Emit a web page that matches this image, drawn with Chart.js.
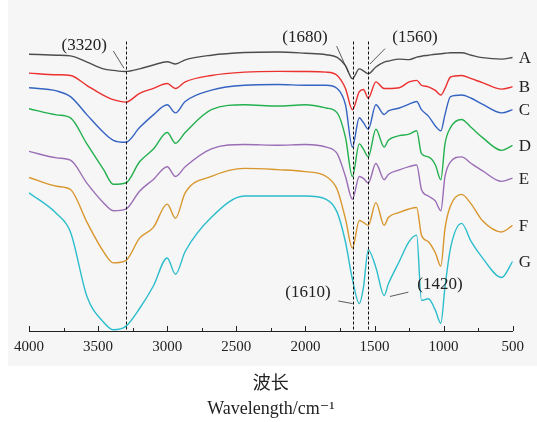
<!DOCTYPE html>
<html>
<head>
<meta charset="utf-8">
<script src="https://cdn.jsdelivr.net/npm/chart.js@4.4.1/dist/chart.umd.min.js"></script>
<style>
    body { margin: 0; background: #fff; }
    #wrap { position: relative; width: 537px; height: 422px; }
    #panel { position: absolute; left: 8px; top: 0; width: 529px; height: 366px; background: #f6f6f6; }
    #chart { position: absolute; left: 0; top: 0; }
</style>
</head>
<body>
<div id="wrap">
    <div id="panel"></div>
    <canvas id="chart" width="537" height="422"></canvas>
</div>
<script>
// Wavenumbers (cm-1) at which every curve was read
const wavenumbers = [4000, 3800, 3700, 3580, 3460, 3390, 3300, 3200, 3100, 3000, 2940, 2870, 2680, 2440, 2200, 2000,
    1850, 1770, 1710, 1660, 1610, 1580, 1545, 1490, 1430, 1400, 1320, 1250, 1195, 1160, 1110, 1060, 1020, 990, 950,
    870, 800, 720, 580, 500];

// Offset transmittance of each sample (arbitrary units)
const seriesA = [295, 294, 293.3, 287, 280, 278.5, 277.3, 280, 284, 287.3, 285, 289.3, 294, 296.7, 297.3, 296,
    294.5, 291.7, 283.3, 270, 280, 278, 275, 282, 287, 288, 290, 289.5, 292, 293, 294, 295, 295.5, 296, 296.5,
    296.5, 294, 291.5, 290, 291.7];
const seriesB = [275.7, 274, 273.3, 263, 253, 248.5, 246, 255, 260, 265, 260, 266.7, 273.3, 276.7, 277.5, 277.3,
    276.7, 273.3, 260, 238.3, 256.7, 259, 250, 266.7, 260, 260, 260.7, 266.7, 268.3, 263.3, 261.7, 258, 253.3, 260, 271.7,
    273.3, 270, 266, 259.3, 261.7];
const seriesC = [260.7, 257.5, 251.7, 233, 215, 207, 205, 220, 233, 243.3, 235, 246.7, 258.3, 263.3, 264, 263.3,
    263.3, 260, 243.3, 200, 230, 225, 218.3, 243.3, 233.3, 237, 240, 244, 246.7, 238.3, 231.7, 221.7, 216.7, 233.3, 251.7,
    253.3, 250, 244, 235, 238.3];
const seriesD = [239.3, 233, 230, 203, 177, 162, 163.3, 185, 198, 215, 204, 215, 238.3, 243.3, 242, 243.3,
    240, 235, 210, 170, 203.3, 198, 190, 218.3, 200, 207, 211.7, 213.3, 216.7, 193.3, 190, 182, 166.7, 203.3, 220,
    228.3, 220, 210, 196.7, 201.7];
const seriesE = [195.7, 189, 186.7, 163, 143, 135, 136.7, 155, 167, 180, 170, 180, 198.3, 202.7, 202, 202.7,
    200, 193.3, 170, 146.7, 170, 168, 163.3, 183.3, 166.7, 172, 176.7, 180, 181.7, 156.7, 150, 145, 135, 170, 185,
    190, 183.3, 176, 165, 168.3];
const seriesF = [169, 160, 156.7, 123, 93, 81.7, 84, 107, 118, 141.7, 127.3, 153.3, 170, 178.3, 177, 175,
    170, 156.7, 126.7, 96.7, 125, 123, 120, 143.3, 120, 128, 133.3, 136.7, 138.3, 110, 103.3, 92, 78.3, 116.7, 140,
    151.7, 141.7, 125, 113.3, 120];
const seriesG = [153.3, 132, 113.3, 47, 21, 13.3, 16.7, 35, 58, 86.7, 70, 93.3, 128.3, 150, 150, 150,
    146.7, 133.3, 103, 65, 40, 56.7, 95, 77, 48.3, 60, 83.3, 103.3, 110, 43.3, 45, 33.3, 20, 56.7, 96.7,
    122, 103.3, 87, 66.7, 83.3];

const seriesNames = ['A', 'B', 'C', 'D', 'E', 'F', 'G'];
const seriesValues = [seriesA, seriesB, seriesC, seriesD, seriesE, seriesF, seriesG];
const seriesColors = ['#4d4d4d', '#ec2f2f', '#3463c2', '#23b04e', '#9a6db6', '#d8962c', '#2bbdcc'];

// Peak annotations: label text, label anchor, leader line (wavenumber, level)
const peakLabels = ['(3320)', '(1680)', '(1560)', '(1610)', '(1420)'];
const peakLabelAt = [[3600, 304], [2003, 312], [1207, 312], [1981, 51], [1026, 60]];
const leaderFrom = [[3390, 298.3], [1774, 303.3], [1424, 300.7], [1762, 42.7], [1255, 51.7]];
const leaderTo = [[3313, 280.7], [1690, 276.7], [1533, 285], [1658, 40], [1388, 47.3]];
const markerLines = [3298, 1658, 1545];
const markerTop = 308;

const serif = "'Liberation Serif', 'DejaVu Serif', 'Noto Sans CJK SC', serif";

const overlayPlugin = {
    id: 'overlay',
    afterDraw(chart) {
        const { ctx, chartArea, scales: { x, y } } = chart;
        ctx.save();

        // tick marks point into the plot
        ctx.strokeStyle = '#222';
        ctx.lineWidth = 1;
        x.ticks.forEach(t => {
            const px = Math.round(x.getPixelForValue(t.value)) + 0.5;
            const len = t.value % 500 === 0 ? 5 : 3;
            ctx.beginPath();
            ctx.moveTo(px, chartArea.bottom);
            ctx.lineTo(px, chartArea.bottom - len);
            ctx.stroke();
        });

        // dashed marker lines
        ctx.setLineDash([3, 2]);
        ctx.strokeStyle = '#111';
        markerLines.forEach(wn => {
            const px = Math.round(x.getPixelForValue(wn)) + 0.5;
            ctx.beginPath();
            ctx.moveTo(px, y.getPixelForValue(markerTop));
            ctx.lineTo(px, chartArea.bottom);
            ctx.stroke();
        });
        ctx.setLineDash([]);

        // leader lines and peak labels
        ctx.strokeStyle = '#333';
        ctx.lineWidth = 0.8;
        ctx.fillStyle = '#222';
        ctx.font = '17px ' + serif;
        ctx.textAlign = 'center';
        ctx.textBaseline = 'middle';
        peakLabels.forEach((txt, i) => {
            ctx.beginPath();
            ctx.moveTo(x.getPixelForValue(leaderFrom[i][0]), y.getPixelForValue(leaderFrom[i][1]));
            ctx.lineTo(x.getPixelForValue(leaderTo[i][0]), y.getPixelForValue(leaderTo[i][1]));
            ctx.stroke();
            ctx.fillText(txt, x.getPixelForValue(peakLabelAt[i][0]), y.getPixelForValue(peakLabelAt[i][1]));
        });

        // series letters at the right end of each curve
        ctx.textAlign = 'left';
        seriesValues.forEach((vals, i) => {
            const last = vals[vals.length - 1];
            ctx.fillText(seriesNames[i], chartArea.right + 6, y.getPixelForValue(last) + 1);
        });

        ctx.restore();
    }
};

const datasets = seriesValues.map((vals, i) => ({
    label: seriesNames[i],
    data: wavenumbers.map((wn, j) => ({ x: wn, y: vals[j] })),
    borderColor: seriesColors[i],
    borderWidth: 1.4,
    pointRadius: 0,
    cubicInterpolationMode: 'monotone',
    fill: false
}));

new Chart(document.getElementById('chart'), {
    type: 'line',
    data: { datasets },
    options: {
        responsive: false,
        animation: false,
        devicePixelRatio: 1,
        layout: { padding: { left: 29, right: 24.3, top: 20, bottom: 0 } },
        plugins: {
            legend: { display: false },
            tooltip: { enabled: false }
        },
        scales: {
            x: {
                type: 'linear',
                reverse: true,
                min: 500,
                max: 4000,
                grid: { display: false, drawTicks: false },
                border: { display: true, color: '#222', width: 1 },
                ticks: {
                    stepSize: 250,
                    autoSkip: false,
                    maxRotation: 0,
                    padding: 7,
                    color: '#222',
                    font: { family: serif, size: 15 },
                    callback: v => (v % 500 === 0 ? String(v) : '')
                },
                title: {
                    display: true,
                    text: ['波长', 'Wavelength/cm⁻¹'],
                    color: '#222',
                    font: { family: serif, size: 18, lineHeight: '25px' },
                    padding: { top: 9, bottom: 0 }
                }
            },
            y: {
                display: false,
                min: 12,
                max: 330
            }
        }
    },
    plugins: [overlayPlugin]
});
</script>
</body>
</html>
